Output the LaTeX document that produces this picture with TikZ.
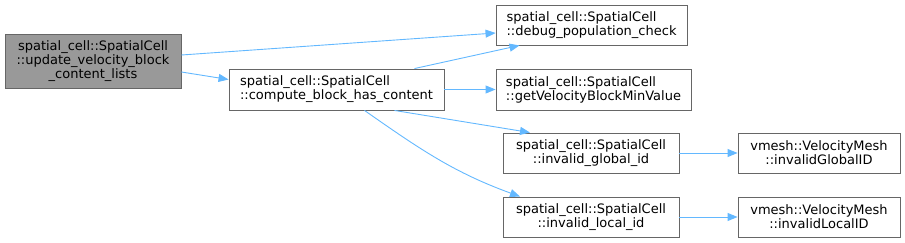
\documentclass[tikz,border=0pt]{standalone}
\usepackage{fontspec}
\setmainfont{DejaVu Sans}
\usetikzlibrary{arrows.meta}
\definecolor{edgeblue}{HTML}{63B8FF}
\definecolor{boxline}{HTML}{666666}
\definecolor{rootfill}{HTML}{999999}

\begin{document}
\begin{tikzpicture}[x=1pt, y=-1pt, fn/.style={draw=boxline, fill=white, align=center, font=\fontsize{13}{14}\selectfont, inner sep=0pt, line width=0.9pt}, fnl/.style={fn, align=left}, root/.style={fn, fill=rootfill}, call/.style={draw=edgeblue, line width=0.9pt, -{Triangle[length=10pt,width=8pt]}}]
\useasboundingbox (0,0) rectangle (905,243);
% caller
\node[root, minimum width=176pt, minimum height=54pt] (upd) at (93,61) {spatial\_cell::SpatialCell\\::update\_velocity\_block\\\_content\_lists};
% callees
\node[fnl, minimum width=215pt, minimum height=41pt] (cbhc) at (336.5,89.5) {spatial\_cell::SpatialCell\\::compute\_block\_has\_content};
\node[fnl, minimum width=191pt, minimum height=40pt] (dpc) at (591.5,25) {spatial\_cell::SpatialCell\\::debug\_population\_check};
\node[fnl, minimum width=195pt, minimum height=41pt] (gvb) at (593.5,89.5) {spatial\_cell::SpatialCell\\::getVelocityBlockMinValue};
\node[fn, minimum width=176pt, minimum height=40pt] (igid) at (591,153) {spatial\_cell::SpatialCell\\::invalid\_global\_id};
\node[fn, minimum width=176pt, minimum height=40pt] (ilid) at (591,217) {spatial\_cell::SpatialCell\\::invalid\_local\_id};
\node[fn, minimum width=162pt, minimum height=40pt] (vgid) at (819,153) {vmesh::VelocityMesh\\::invalidGlobalID};
\node[fn, minimum width=162pt, minimum height=40pt] (vlid) at (819,217) {vmesh::VelocityMesh\\::invalidLocalID};
% calls
\draw[call] ([yshift=6pt]upd.east) -- ([yshift=-8pt]dpc.west);
\draw[call] ([yshift=-11pt]upd.east) -- ([yshift=10pt]cbhc.west);
\draw[call] ([xshift=78pt]cbhc.north) -- ([xshift=-72pt]dpc.south);
\draw[call] (cbhc.east) -- (gvb.west);
\draw[call] ([xshift=58pt]cbhc.south) -- ([xshift=-61pt]igid.north);
\draw[call] ([xshift=28pt]cbhc.south) to[out=-35, in=160] ([xshift=-71pt]ilid.north);
\draw[call] (igid.east) -- (vgid.west);
\draw[call] (ilid.east) -- (vlid.west);
\end{tikzpicture}
\end{document}
